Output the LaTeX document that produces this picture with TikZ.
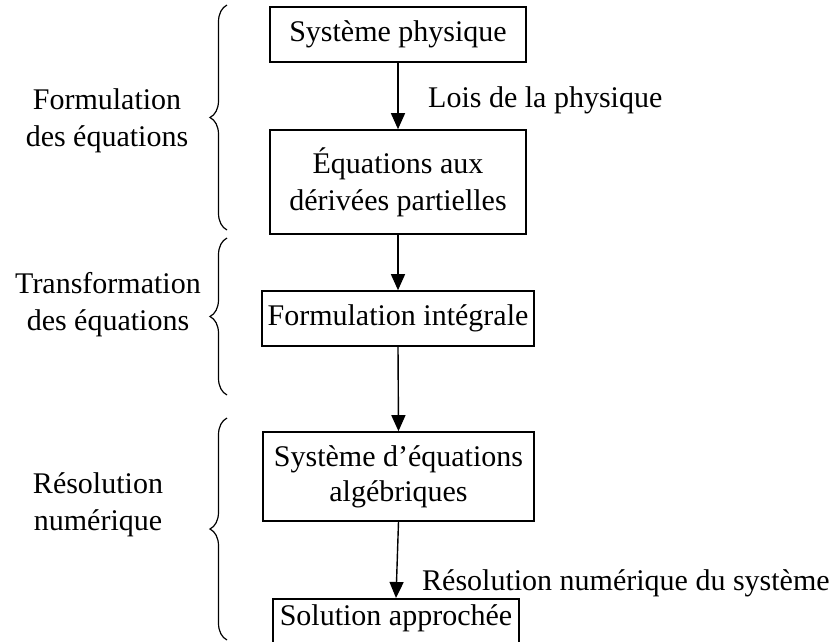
\documentclass[tikz,border=0pt]{standalone}
\usepackage{fontspec}
\setmainfont{Liberation Serif}
\usetikzlibrary{arrows.meta,decorations.pathreplacing}
\begin{document}
\begin{tikzpicture}[x=1pt,y=-1pt,
  box/.style={draw,line width=1.6pt,inner sep=0pt,align=center,font=\fontsize{30}{37}\selectfont},
  lbl/.style={inner sep=0pt,align=center,font=\fontsize{30}{37}\selectfont},
  arr/.style={line width=1.4pt,-{Triangle[width=14pt,length=16pt]}},
  brc/.style={decorate,decoration={brace,amplitude=17pt,aspect=0.5},line width=1.2pt}]
\useasboundingbox (0,0) rectangle (833,641);
% boxes
\node[box,minimum width=256pt,minimum height=55pt] (b1) at (398,34.5) {Système physique};
\node[box,minimum width=256pt,minimum height=104pt] (b2) at (398,182) {Équations aux\\dérivées partielles};
\node[box,minimum width=272pt,minimum height=55pt] (b3) at (398,318.5) {Formulation intégrale};
\node[box,minimum width=271pt,minimum height=89pt] (b4) at (398.5,476.5) {Système d’équations\\[-2pt]algébriques};
\node[box,minimum width=246pt,text height=24pt,text depth=33pt,inner ysep=3pt,anchor=north] (b5) at (396,598) {Solution approchée};
% arrows
\draw[arr] (b1.south) -- (b2.north);
\draw[arr] (b2.south) -- (b3.north);
\draw[arr] (b3.south) -- (b4.north);
\draw[arr] (b4.south) -- (b5.north);
% arrow labels
\node[lbl,anchor=base west] (l1) at (428,107) {Lois de la physique};
\node[lbl,anchor=base west] (l2) at (422,590) {Résolution numérique du système};
% left labels
\node[lbl] (g1) at (107,120.5) {Formulation\\des équations};
\node[lbl] (g2) at (108,304.5) {Transformation\\des équations};
\node[lbl] (g3) at (98,504.5) {Résolution\\numérique};
% braces
\draw[brc] (227,230) -- (227,5);
\draw[brc] (227,395) -- (227,238);
\draw[brc] (227,640) -- (227,418);
\end{tikzpicture}
\end{document}
